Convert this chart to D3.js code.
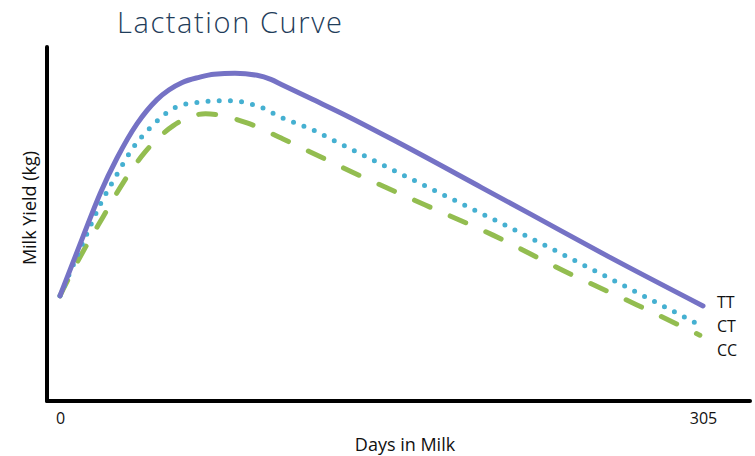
<!DOCTYPE html>
<html>
<head>
<meta charset="utf-8">
<script src="https://cdn.jsdelivr.net/npm/d3@7"></script>
<style>
  body { margin: 0; background: #fff; }
  text { font-family: "Open Sans", sans-serif; fill: #111; }
  .title { font-weight: 300; fill: #1f3d5a; }
</style>
</head>
<body>
<div id="chart"></div>
<script>
// 1. Data
const seriesNames = ["TT", "CT", "CC"]
const seriesColors = ["#7572c5", "#45b0d1", "#93bd50"]

const ttDays = [0, 11, 19, 27, 36.5, 46, 58, 66, 73, 83, 93.5, 100, 105, 120, 133, 160, 200, 223, 260, 305]
const ttYield = [10.4, 16.3, 20.5, 24.0, 27.4, 29.8, 31.5, 32.0, 32.3, 32.4, 32.2, 31.8, 31.3, 29.8, 28.5, 25.6, 21.1, 18.5, 14.3, 9.4]

const ctDays = [0, 11, 19, 27, 34.5, 42.7, 53.6, 64, 79.7, 85.4, 95.8, 104.4, 120, 129.5, 170, 210, 260, 304.5]
const ctYield = [10.4, 15.7, 19.4, 22.4, 25.0, 27.0, 28.9, 29.5, 29.7, 29.6, 29.0, 28.1, 26.8, 25.8, 21.6, 17.5, 12.2, 7.4]

const ccDays = [0, 1.4, 11, 20.4, 30, 40.3, 53.6, 69, 88.7, 105.8, 122, 139, 173, 205.4, 239.6, 273.7, 303.5]
const ccYield = [10.4, 11.0, 14.8, 18.2, 21.6, 24.6, 27.2, 28.4, 27.5, 25.9, 24.3, 22.6, 19.4, 16.4, 12.8, 9.5, 6.5]

const xTicks = [0, 305]

// 2. Dimensions
const width = 755
const height = 456
const axisLeft = 47
const axisBottom = 401
const axisTop = 47
const axisRight = 750

const wrapper = d3.select("#chart")
  .append("svg")
    .attr("width", width)
    .attr("height", height)

// 3. Scales
const xScale = d3.scaleLinear()
  .domain([0, 305])
  .range([60, 703])

const yScale = d3.scaleLinear()
  .domain([0, 35])
  .range([axisBottom, axisBottom - 35 * 10.114])

// 4. Peripherals
wrapper.append("text")
  .attr("class", "title")
  .attr("x", 117)
  .attr("y", 33)
  .style("font-size", "29px")
  .style("letter-spacing", "1.6px")
  .text("Lactation Curve")

wrapper.append("line")
  .attr("x1", axisLeft).attr("y1", axisTop)
  .attr("x2", axisLeft).attr("y2", axisBottom)
  .attr("stroke", "#000")
  .attr("stroke-width", 4)
  .attr("stroke-linecap", "round")

wrapper.append("line")
  .attr("x1", axisLeft).attr("y1", axisBottom)
  .attr("x2", axisRight).attr("y2", axisBottom)
  .attr("stroke", "#000")
  .attr("stroke-width", 4)
  .attr("stroke-linecap", "round")

const xAxis = wrapper.append("g")
  .attr("transform", `translate(0, ${axisBottom})`)
  .call(d3.axisBottom(xScale).tickValues(xTicks).tickSize(0).tickPadding(12))
xAxis.select(".domain").remove()
xAxis.selectAll("text")
  .style("font-family", "Open Sans, sans-serif")
  .style("font-size", "16px")
  .style("fill", "#111")

wrapper.append("text")
  .attr("x", 405)
  .attr("y", 451)
  .style("font-size", "18px")
  .style("text-anchor", "middle")
  .text("Days in Milk")

wrapper.append("text")
  .attr("transform", "translate(36, 208) rotate(-90)")
  .style("font-size", "18px")
  .style("text-anchor", "middle")
  .text("Milk Yield (kg)")

// 5. Lines
const makeSeries = (days, yields) => days.map((d, i) => ({ day: d, kg: yields[i] }))
const allSeries = [
  makeSeries(ttDays, ttYield),
  makeSeries(ctDays, ctYield),
  makeSeries(ccDays, ccYield),
]
const dashes = [null, "0 11.2", "17 22"]

const lineGenerator = d3.line()
  .x(d => xScale(d.day))
  .y(d => yScale(d.kg))
  .curve(d3.curveMonotoneX)

// draw CC first, TT on top
;[2, 1, 0].forEach(i => {
  wrapper.append("path")
    .attr("d", lineGenerator(allSeries[i]))
    .attr("fill", "none")
    .attr("stroke", seriesColors[i])
    .attr("stroke-width", 5)
    .attr("stroke-linecap", "round")
    .attr("stroke-linejoin", "round")
    .attr("stroke-dasharray", dashes[i])
})

// labels at the line ends
const labelY = [308, 332, 356]
seriesNames.forEach((name, i) => {
  wrapper.append("text")
    .attr("x", 717)
    .attr("y", labelY[i])
    .style("font-size", "16px")
    .text(name)
})
</script>
</body>
</html>
